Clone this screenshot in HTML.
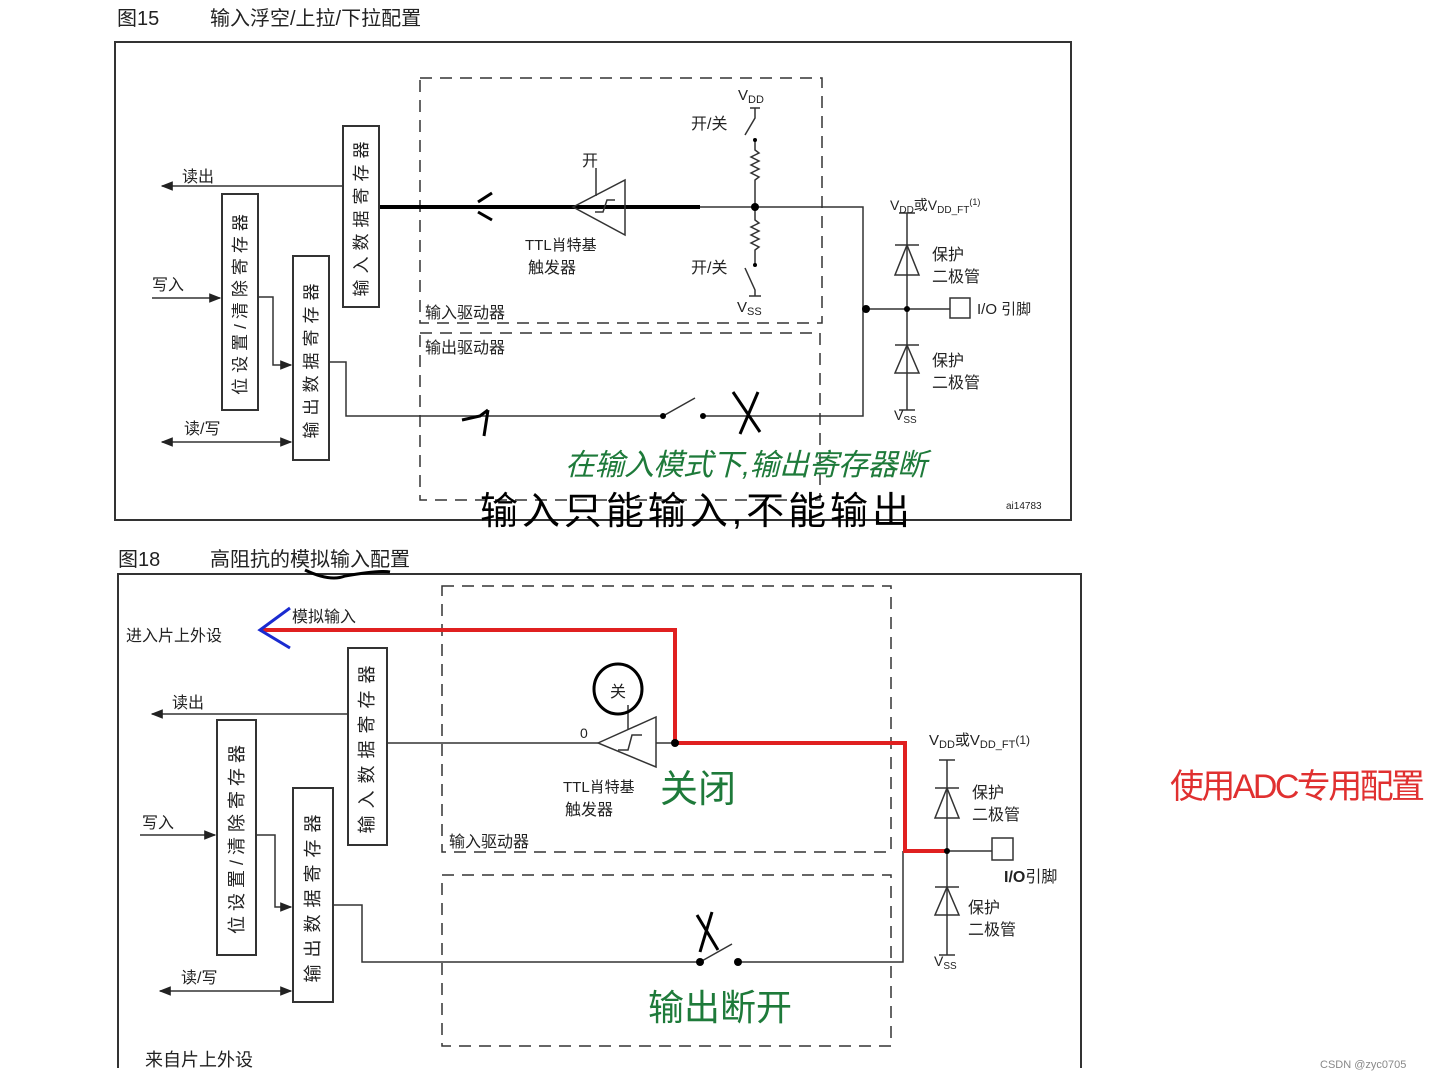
<!DOCTYPE html>
<html><head><meta charset="utf-8"><style>
html,body{margin:0;padding:0;background:#fff;}
svg{display:block;}
text{font-family:"Liberation Sans","Noto Sans CJK SC",sans-serif;fill:#222;}
</style></head><body>
<svg width="1432" height="1080" viewBox="0 0 1432 1080" xmlns="http://www.w3.org/2000/svg">
<defs>
<marker id="a" viewBox="0 0 10 10" refX="9" refY="5" markerWidth="8" markerHeight="8" orient="auto-start-reverse"><path d="M0,1 L10,5 L0,9 z" fill="#222"/></marker>
</defs>
<g stroke="#333" stroke-width="1.5" fill="none">
<rect x="115" y="42" width="956" height="478" stroke-width="2"/>
<rect x="420" y="78" width="402" height="245" stroke-dasharray="12,8"/>
<rect x="420" y="333" width="400" height="167" stroke-dasharray="12,8"/>
<rect x="343" y="126" width="36" height="181" stroke-width="2"/>
<rect x="222" y="194" width="36" height="216" stroke-width="2"/>
<rect x="293" y="256" width="36" height="204" stroke-width="2"/>
<line x1="343" y1="186" x2="162" y2="186" marker-end="url(#a)"/>
<line x1="152" y1="298" x2="220" y2="298" marker-end="url(#a)"/>
<line x1="162" y1="442" x2="291" y2="442" marker-start="url(#a)" marker-end="url(#a)"/>
<polyline points="258,297 273,297 273,365 291,365" marker-end="url(#a)"/>
<polyline points="329,362 346,362 346,416 663,416"/>
<line x1="663" y1="416" x2="695" y2="398"/>
<polyline points="703,416 863,416 863,207 379,207"/>
<line x1="380" y1="207" x2="700" y2="207" stroke="#000" stroke-width="4"/>
<polygon points="573,207 625,180 625,235"/>
<path d="M595,212 L603,212 L607,200 L615,200"/>
<line x1="596" y1="168" x2="596" y2="196"/>
<path d="M750,108 L760,108 M755,108 L755,118 L745,135" />
<path d="M755,140 L755,150 l4,3 l-8,4 l8,4 l-8,4 l8,4 l-8,4 l8,4 l-4,3 L755,207 L755,220 l4,3 l-8,4 l8,4 l-8,4 l8,4 l-8,4 l8,4 l-4,3 L755,265"/>
<path d="M745,268 L755,290 L755,296 M749,296 L761,296"/>
<path d="M478,202 L492,193 M478,212 L492,220 M476,207 L500,207" stroke="#000" stroke-width="3"/>
<polyline points="863,309 950,309"/>
<rect x="950" y="298" width="20" height="20"/>
<line x1="907" y1="213" x2="907" y2="410"/>
<line x1="899" y1="213" x2="915" y2="213"/><line x1="899" y1="410" x2="915" y2="410"/>
<polygon points="907,245 895,275 919,275"/><line x1="895" y1="245" x2="919" y2="245"/>
<polygon points="907,345 895,373 919,373"/><line x1="895" y1="345" x2="919" y2="345"/>
<path d="M462,420 L480,416 L488,410 M488,410 L484,436" stroke="#000" stroke-width="3"/>
<path d="M733,392 L760,432 M758,392 L740,434" stroke="#000" stroke-width="3"/>
<path d="M118,1068 L118,574 L1081,574 L1081,1068" stroke-width="2"/>
<rect x="442" y="586" width="449" height="266" stroke-dasharray="12,8"/>
<rect x="442" y="875" width="449" height="171" stroke-dasharray="12,8"/>
<rect x="348" y="648" width="39" height="197" stroke-width="2"/>
<rect x="217" y="720" width="39" height="235" stroke-width="2"/>
<rect x="293" y="788" width="40" height="214" stroke-width="2"/>
<line x1="348" y1="714" x2="152" y2="714" marker-end="url(#a)"/>
<line x1="140" y1="835" x2="215" y2="835" marker-end="url(#a)"/>
<line x1="160" y1="991" x2="291" y2="991" marker-start="url(#a)" marker-end="url(#a)"/>
<polyline points="256,835 275,835 275,907 291,907" marker-end="url(#a)"/>
<polyline points="333,905 362,905 362,962 700,962"/>
<line x1="700" y1="962" x2="732" y2="944"/>
<polyline points="738,962 903,962 903,851"/>
<line x1="387" y1="743" x2="598" y2="743"/>
<polygon points="598,743 656,717 656,767"/>
<path d="M618,750 L628,750 L632,735 L642,735"/>
<line x1="628" y1="705" x2="628" y2="730"/>
<line x1="656" y1="743" x2="905" y2="743"/>
<polyline points="903,851 992,851"/>
<rect x="992" y="838" width="21" height="22"/>
<line x1="947" y1="760" x2="947" y2="955"/>
<line x1="939" y1="760" x2="955" y2="760"/><line x1="939" y1="955" x2="955" y2="955"/>
<polygon points="947,788 935,818 959,818"/><line x1="935" y1="788" x2="959" y2="788"/>
<polygon points="947,887 935,915 959,915"/><line x1="935" y1="887" x2="959" y2="887"/>
<ellipse cx="618" cy="689" rx="24" ry="25" stroke="#000" stroke-width="3"/>
<path d="M305,570 Q330,582 345,576 Q380,570 390,572" stroke="#000" stroke-width="3"/>
<path d="M697,915 L718,950 M712,912 L700,952" stroke="#000" stroke-width="3"/>
<polyline points="260,630 675,630 675,743 905,743 905,851 947,851" stroke="#e02020" stroke-width="4"/>
<path d="M290,608 L260,630 L290,648" stroke="#1a2bd0" stroke-width="3"/>
</g>
<g fill="#000">
<circle cx="755" cy="207" r="4"/><circle cx="866" cy="309" r="4"/><circle cx="907" cy="309" r="3"/>
<circle cx="663" cy="416" r="3"/><circle cx="703" cy="416" r="3"/>
<circle cx="755" cy="140" r="2"/><circle cx="755" cy="265" r="2"/>
<circle cx="675" cy="743" r="4"/><circle cx="947" cy="851" r="3"/>
<circle cx="700" cy="962" r="4"/><circle cx="738" cy="962" r="4"/>
</g>
<text x="117" y="25" font-size="20">图15</text>
<text x="210" y="25" font-size="20">输入浮空/上拉/下拉配置</text>
<text x="182" y="182" font-size="16">读出</text>
<text x="152" y="290" font-size="16">写入</text>
<text x="184" y="434" font-size="16">读/写</text>
<text transform="translate(367,216) rotate(-90)" text-anchor="middle" font-size="17" letter-spacing="6">输入数据寄存器</text>
<text transform="translate(246,302) rotate(-90)" text-anchor="middle" font-size="17" letter-spacing="5">位设置/清除寄存器</text>
<text transform="translate(317,358) rotate(-90)" text-anchor="middle" font-size="17" letter-spacing="6">输出数据寄存器</text>
<text x="582" y="166" font-size="16">开</text>
<text x="525" y="250" font-size="15">TTL肖特基</text>
<text x="528" y="273" font-size="16">触发器</text>
<text x="738" y="100" font-size="15">V<tspan font-size="11" dy="3">DD</tspan></text>
<text x="691" y="129" font-size="16">开/关</text>
<text x="691" y="273" font-size="16">开/关</text>
<text x="737" y="312" font-size="15">V<tspan font-size="11" dy="3">SS</tspan></text>
<text x="425" y="318" font-size="16">输入驱动器</text>
<text x="425" y="353" font-size="16">输出驱动器</text>
<text x="890" y="210" font-size="14">V<tspan font-size="10" dy="3">DD</tspan><tspan dy="-3">或V</tspan><tspan font-size="10" dy="3">DD_FT</tspan><tspan font-size="9" dy="-8">(1)</tspan></text>
<text x="932" y="260" font-size="16">保护</text>
<text x="932" y="282" font-size="16">二极管</text>
<text x="932" y="366" font-size="16">保护</text>
<text x="932" y="388" font-size="16">二极管</text>
<text x="894" y="420" font-size="14">V<tspan font-size="10" dy="3">SS</tspan></text>
<text x="977" y="314" font-size="15">I/O 引脚</text>
<text x="1006" y="509" font-size="10">ai14783</text>
<text x="565" y="475" font-size="30" style="fill:#1e7a3a;font-style:italic" textLength="362">在输入模式下,输出寄存器断</text>
<text x="480" y="524" font-size="38" style="fill:#000" textLength="430">输入只能输入,不能输出</text>
<text x="118" y="566" font-size="20">图18</text>
<text x="210" y="566" font-size="20">高阻抗的模拟输入配置</text>
<text x="292" y="622" font-size="16">模拟输入</text>
<text x="126" y="641" font-size="16">进入片上外设</text>
<text x="172" y="708" font-size="16">读出</text>
<text x="142" y="828" font-size="16">写入</text>
<text x="181" y="983" font-size="16">读/写</text>
<text transform="translate(373,746) rotate(-90)" text-anchor="middle" font-size="18" letter-spacing="7">输入数据寄存器</text>
<text transform="translate(243,837) rotate(-90)" text-anchor="middle" font-size="18" letter-spacing="5">位设置/清除寄存器</text>
<text transform="translate(319,895) rotate(-90)" text-anchor="middle" font-size="18" letter-spacing="7">输出数据寄存器</text>
<text x="610" y="697" font-size="16">关</text>
<text x="580" y="738" font-size="14">0</text>
<text x="563" y="792" font-size="15">TTL肖特基</text>
<text x="565" y="815" font-size="16">触发器</text>
<text x="660" y="802" font-size="38" style="fill:#1e7a3a">关闭</text>
<text x="449" y="847" font-size="16">输入驱动器</text>
<text x="929" y="745" font-size="15">V<tspan font-size="11" dy="3">DD</tspan><tspan dy="-3">或V</tspan><tspan font-size="11" dy="3">DD_FT</tspan><tspan font-size="12" dy="-4">(1)</tspan></text>
<text x="972" y="798" font-size="16">保护</text>
<text x="972" y="820" font-size="16">二极管</text>
<text x="968" y="913" font-size="16">保护</text>
<text x="968" y="935" font-size="16">二极管</text>
<text x="934" y="966" font-size="14">V<tspan font-size="10" dy="3">SS</tspan></text>
<text x="1004" y="882" font-size="16" font-weight="bold">I/O<tspan font-weight="normal">引脚</tspan></text>
<text x="648" y="1020" font-size="36" style="fill:#1e7a3a">输出断开</text>
<text x="145" y="1066" font-size="18">来自片上外设</text>
<text x="1170" y="798" font-size="34" style="fill:#e03030" textLength="255">使用ADC专用配置</text>
<text x="1320" y="1068" font-size="11" style="fill:#888">CSDN @zyc0705</text>
</svg>
</body></html>
